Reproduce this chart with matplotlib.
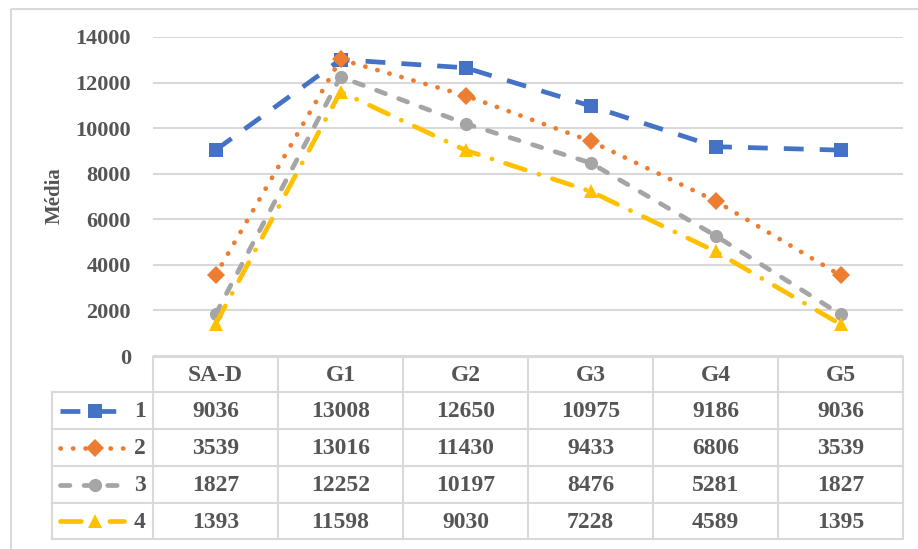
import numpy as np
import matplotlib
matplotlib.use("Agg")
import matplotlib.pyplot as plt
from matplotlib.lines import Line2D
from matplotlib.patches import Rectangle

plt.rcParams['font.family'] = ['Liberation Serif', 'DejaVu Serif']
plt.rcParams['font.weight'] = 'bold'

# ---- data --------------------------------------------------------------
categories = ["SA-D", "G1", "G2", "G3", "G4", "G5"]
series_names = ["1", "2", "3", "4"]
s1 = [9036, 13008, 12650, 10975, 9186, 9036]
s2 = [3539, 13016, 11430, 9433, 6806, 3539]
s3 = [1827, 12252, 10197, 8476, 5281, 1827]
s4 = [1393, 11598, 9030, 7228, 4589, 1395]
series_values = [s1, s2, s3, s4]
y_ticks = [0, 2000, 4000, 6000, 8000, 10000, 12000, 14000]

# ---- styles ------------------------------------------------------------
TXT = '#555555'
GRID = '#D9D9D9'
styles = [
    dict(color='#4472C4', marker='s', ms=9.5, dashes=(4.2, 3.4), cap='butt'),
    dict(color='#ED7D31', marker='D', ms=9, dashes=(0.05, 2.6), cap='round'),
    dict(color='#A5A5A5', marker='o', ms=9.5, dashes=(2.0, 3.0), cap='round'),
    dict(color='#FFC000', marker='^', ms=10.5, dashes=(4.4, 3.0, 0.05, 3.0), cap='round'),
]
LW = 3.4

W, H = 918, 549
fig = plt.figure(figsize=(W / 100, H / 100), dpi=100)

# pixel layout
x_left, x_right = 153, 903
y_top, y_zero = 37, 356
col_edges = np.linspace(x_left, x_right, len(categories) + 1)
row_edges = [357, 392, 429, 466, 503, 539]
key_left = 52

ax = fig.add_axes([x_left / W, 1 - y_zero / H, (x_right - x_left) / W, (y_zero - y_top) / H])
x = np.arange(len(categories))
for vals, st in zip(series_values, styles):
    ln, = ax.plot(x, vals, color=st['color'], lw=LW, marker=st['marker'],
                  ms=st['ms'], markeredgewidth=0, solid_capstyle=st['cap'],
                  dash_capstyle=st['cap'], zorder=3)
    ln.set_dashes(st['dashes'])
ax.set_xlim(-0.5, len(categories) - 0.5)
ax.set_ylim(0, 14000)
ax.set_yticks(y_ticks)
ax.set_yticklabels([str(t) for t in y_ticks], fontsize=16, color=TXT, fontweight='bold')
ax.tick_params(axis='y', length=0, pad=16)
ax.set_xticks([])
ax.yaxis.grid(True, color=GRID, lw=1.5)
ax.set_axisbelow(True)
for sp in ax.spines.values():
    sp.set_visible(False)
fig.text(55 / W, 1 - 196 / H, "Média", rotation=90, ha='center', va='center',
         fontsize=15, color=TXT, fontweight='bold')

# ---- data table in pixel coordinates ------------------------------------
ov = fig.add_axes([0, 0, 1, 1])
ov.set_xlim(0, W)
ov.set_ylim(H, 0)
ov.axis('off')
ov.patch.set_alpha(0)

# outer chart frame
ov.add_patch(Rectangle((11, 9), W, H, fill=False, ec=GRID, lw=1.5))

def hline(x0, x1, y):
    ov.add_line(Line2D([x0, x1], [y, y], color=GRID, lw=1.5))

def vline(x0, y0, y1):
    ov.add_line(Line2D([x0, x0], [y0, y1], color=GRID, lw=1.5))

hline(x_left, x_right, row_edges[0])
for y in row_edges[1:]:
    hline(key_left, x_right, y)
for xe in col_edges:
    vline(xe, row_edges[0], row_edges[-1])
vline(key_left, row_edges[1], row_edges[-1])

for i, cat in enumerate(categories):
    xc = (col_edges[i] + col_edges[i + 1]) / 2
    yc = (row_edges[0] + row_edges[1]) / 2
    ov.text(xc, yc + 1, cat, ha='center', va='center', fontsize=17, color=TXT,
            fontweight='bold')

for r, (name, vals, st) in enumerate(zip(series_names, series_values, styles)):
    yc = (row_edges[r + 1] + row_edges[r + 2]) / 2
    for i, v in enumerate(vals):
        xc = (col_edges[i] + col_edges[i + 1]) / 2
        ov.text(xc, yc + 1, str(v), ha='center', va='center', fontsize=17,
                color=TXT, fontweight='bold')
    key, = ov.plot([60, 124], [yc, yc], color=st['color'], lw=LW,
                   solid_capstyle=st['cap'], dash_capstyle=st['cap'])
    key.set_dashes(st['dashes'])
    ov.plot([95], [yc], marker=st['marker'], color=st['color'], ms=st['ms'],
            markeredgewidth=0)
    ov.text(146, yc + 1, name, ha='right', va='center', fontsize=17, color=TXT,
            fontweight='bold')

fig.savefig("out.png", dpi=100)
